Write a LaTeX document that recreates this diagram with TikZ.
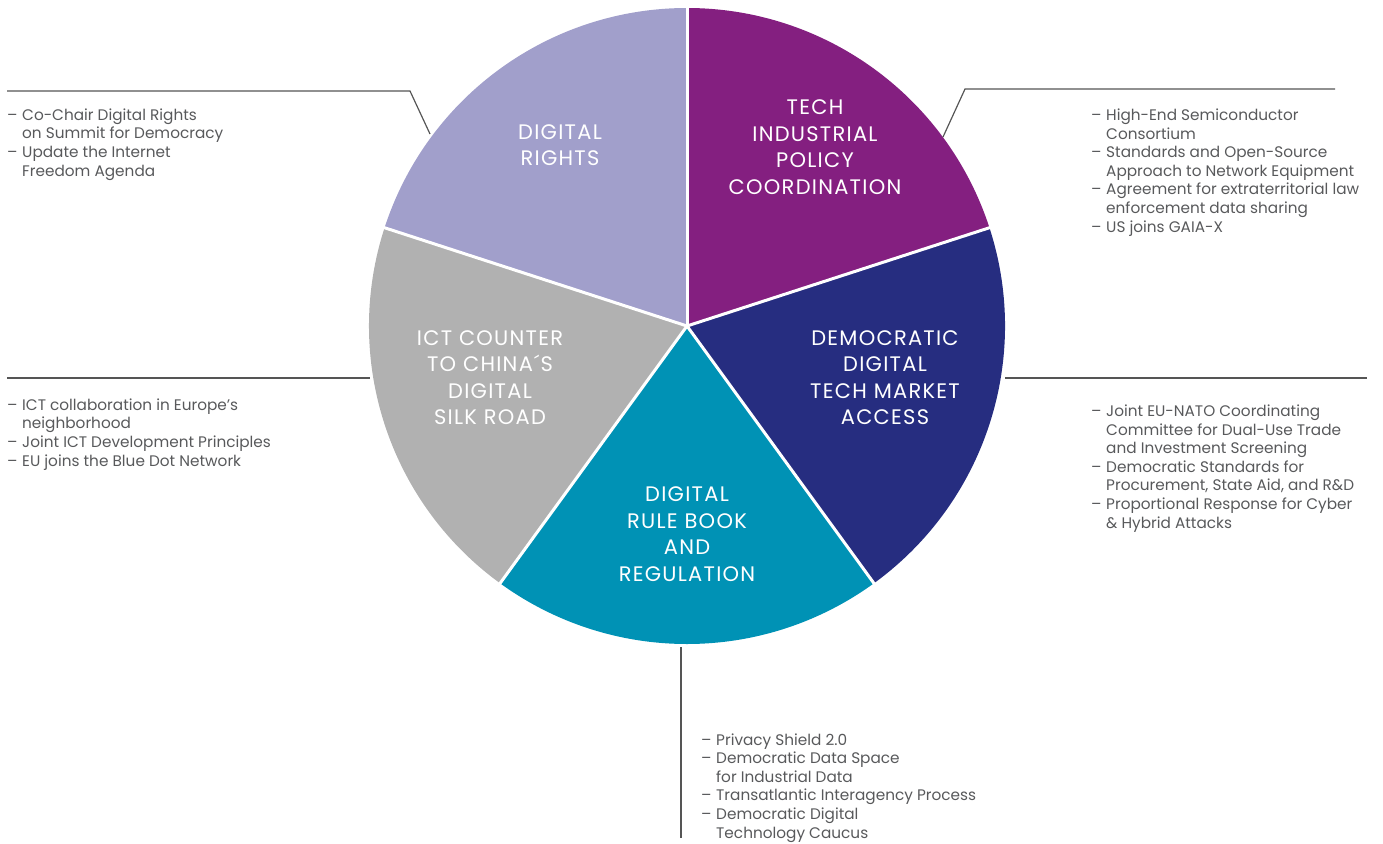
\documentclass[tikz,border=0pt]{standalone}
\usepackage{fontspec}
\setmainfont{Poppins}
\definecolor{rightsc}{HTML}{A19FCB}
\definecolor{techc}{HTML}{841F80}
\definecolor{democ}{HTML}{262D80}
\definecolor{rulec}{HTML}{0092B5}
\definecolor{ictc}{HTML}{B1B1B1}
\definecolor{txtgray}{HTML}{58595B}
\definecolor{linegray}{HTML}{555555}
\newcommand\dashitem{\makebox[15pt][l]{–}}
\newcommand\contline{\hspace*{15pt}}
\tikzset{
  sidetext/.style={font=\fontsize{15.3}{18.6}\selectfont, align=left, inner sep=0pt, text=txtgray, anchor=base west},
  pielabel/.style={font=\fontsize{21}{26.5}\selectfont\addfontfeature{LetterSpace=6}, align=center, inner sep=0pt, text=white},
  leader/.style={draw=linegray, line width=1.2pt},
  sep/.style={draw=white, line width=3pt}
}
\begin{document}
\begin{tikzpicture}[x=1pt,y=1pt]
\useasboundingbox (0,0) rectangle (1383,-843);
\coordinate (C) at (687,-326);
% sectors
\fill[techc] (C) -- ++(18:318) arc[start angle=18,end angle=90,radius=318] -- cycle;
\fill[rightsc] (C) -- ++(90:318) arc[start angle=90,end angle=162,radius=318] -- cycle;
\fill[ictc] (C) -- ++(162:318) arc[start angle=162,end angle=234,radius=318] -- cycle;
\fill[rulec] (C) -- ++(234:318) arc[start angle=234,end angle=306,radius=318] -- cycle;
\fill[democ] (C) -- ++(306:318) arc[start angle=306,end angle=378,radius=318] -- cycle;
\foreach \a in {18,90,162,234,306} \draw[sep] (C) -- ++(\a:319);
% pie labels
\node[pielabel] (lrights) at (560,-145) {DIGITAL\\RIGHTS};
\node[pielabel] (ltech) at (815,-147) {TECH\\INDUSTRIAL\\POLICY\\COORDINATION};
\node[pielabel] (lict) at (490,-377.5) {ICT COUNTER\\TO CHINA´S\\DIGITAL\\SILK ROAD};
\node[pielabel] (ldemo) at (885,-377.5) {DEMOCRATIC\\DIGITAL\\TECH MARKET\\ACCESS};
\node[pielabel] (lrule) at (687,-534) {DIGITAL\\RULE BOOK\\AND\\REGULATION};
% leader lines
\coordinate (a1) at (7,-91); \coordinate (a2) at (410,-91); \coordinate (a3) at (430,-134);
\coordinate (b1) at (943,-137); \coordinate (b2) at (965,-89); \coordinate (b3) at (1335,-89);
\coordinate (c1) at (7,-378); \coordinate (c2) at (370,-378);
\coordinate (d1) at (1005,-378); \coordinate (d2) at (1367,-378);
\coordinate (e1) at (681,-647); \coordinate (e2) at (681,-838);
\draw[leader] (a1) -- (a2) -- (a3);
\draw[leader] (b1) -- (b2) -- (b3);
\draw[leader] (c1) -- (c2);
\draw[leader] (d1) -- (d2);
\draw[leader] (e1) -- (e2);
% side texts (anchored at the baseline of the last line)
\node[sidetext] (trights) at (7,-176) {\dashitem Co-Chair Digital Rights\\\contline on Summit for Democracy\\\dashitem Update the Internet\\\contline Freedom Agenda};
\node[sidetext] (ttech) at (1091,-232) {\dashitem High-End Semiconductor\\\contline Consortium\\\dashitem Standards and Open-Source\\\contline Approach to Network Equipment\\\dashitem Agreement for extraterritorial law\\\contline enforcement data sharing\\\dashitem US joins GAIA-X};
\node[sidetext] (tict) at (7,-466) {\dashitem ICT collaboration in Europe’s\\\contline neighborhood\\\dashitem Joint ICT Development Principles\\\dashitem EU joins the Blue Dot Network};
\node[sidetext] (tdemo) at (1091,-528) {\dashitem Joint EU-NATO Coordinating\\\contline Committee for Dual-Use Trade\\\contline and Investment Screening\\\dashitem Democratic Standards for\\\contline Procurement, State Aid, and R\&D\\\dashitem Proportional Response for Cyber\\\contline \& Hybrid Attacks};
\node[sidetext] (trule) at (701,-838) {\dashitem Privacy Shield 2.0\\\dashitem Democratic Data Space\\\contline for Industrial Data\\\dashitem Transatlantic Interagency Process\\\dashitem Democratic Digital\\\contline Technology Caucus};
\end{tikzpicture}
\end{document}
